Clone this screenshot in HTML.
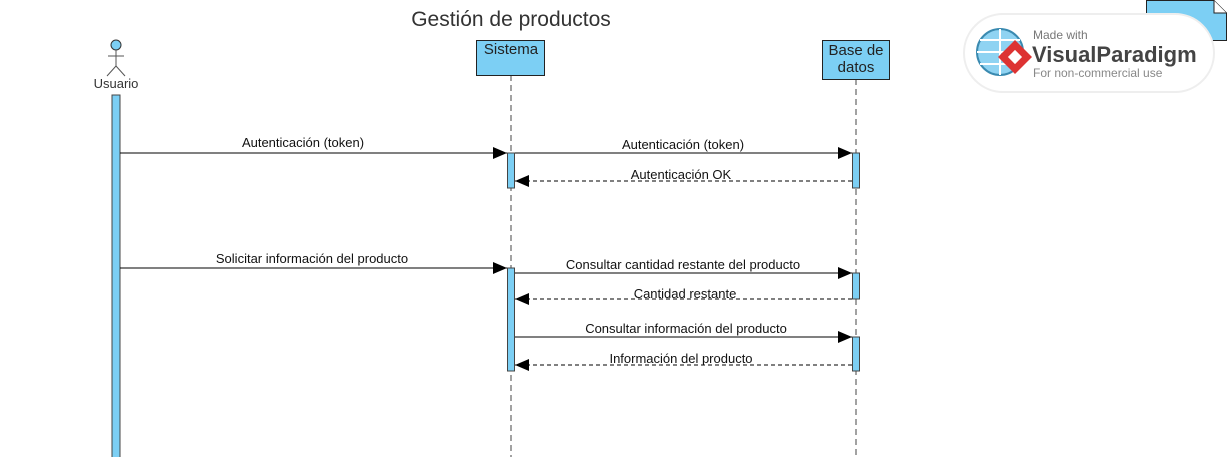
<!DOCTYPE html>
<html><head><meta charset="utf-8"><style>
html,body{margin:0;padding:0;background:#fff;}
svg{display:block;font-family:"Liberation Sans",Arial,sans-serif;}
</style></head><body>
<svg width="1227" height="457" viewBox="0 0 1227 457" xmlns="http://www.w3.org/2000/svg">
<defs>
<marker id="a" markerWidth="14" markerHeight="12" refX="14" refY="6" orient="auto" markerUnits="userSpaceOnUse"><path d="M0,0 L14,6 L0,12 Z" fill="#000"/></marker>
</defs>
<text x="511" y="26" font-size="21" text-anchor="middle" fill="#333">Gestión de productos</text>
<!-- actor -->
<circle cx="116" cy="45" r="5" fill="#7ccff4" stroke="#333"/>
<line x1="116" y1="50" x2="116" y2="66" stroke="#555"/>
<line x1="108" y1="56" x2="124" y2="56" stroke="#555"/>
<line x1="116" y1="66" x2="107" y2="76" stroke="#555"/>
<line x1="116" y1="66" x2="125" y2="76" stroke="#555"/>
<text x="116" y="88" font-size="13" text-anchor="middle" fill="#333">Usuario</text>
<rect x="112" y="95" width="8" height="365" fill="#7ccff4" stroke="#444"/>
<!-- Sistema -->
<line x1="511" y1="75" x2="511" y2="457" stroke="#444" stroke-dasharray="6,4"/>
<rect x="476.5" y="40.5" width="68" height="35" fill="#7ccff4" stroke="#222"/>
<text x="511" y="54" font-size="15" text-anchor="middle" fill="#222">Sistema</text>
<!-- DB -->
<line x1="856" y1="79" x2="856" y2="457" stroke="#444" stroke-dasharray="6,4"/>
<rect x="822.5" y="40.5" width="67" height="39" fill="#7ccff4" stroke="#222"/>
<text x="856" y="55" font-size="15" text-anchor="middle" fill="#222">Base de</text>
<text x="856" y="72" font-size="15" text-anchor="middle" fill="#222">datos</text>
<!-- activations -->
<rect x="507.5" y="153" width="7" height="35" fill="#7ccff4" stroke="#444"/>
<rect x="507.5" y="268" width="7" height="103" fill="#7ccff4" stroke="#444"/>
<rect x="852.5" y="153" width="7" height="35" fill="#7ccff4" stroke="#444"/>
<rect x="852.5" y="273" width="7" height="26" fill="#7ccff4" stroke="#444"/>
<rect x="852.5" y="337" width="7" height="34" fill="#7ccff4" stroke="#444"/>
<!-- messages -->
<g stroke="#000" stroke-width="1">
<line x1="120" y1="153" x2="507" y2="153" marker-end="url(#a)"/>
<line x1="515" y1="153" x2="852" y2="153" marker-end="url(#a)"/>
<line x1="852" y1="181" x2="515" y2="181" stroke-dasharray="4,3" marker-end="url(#a)"/>
<line x1="120" y1="268" x2="507" y2="268" marker-end="url(#a)"/>
<line x1="515" y1="273" x2="852" y2="273" marker-end="url(#a)"/>
<line x1="852" y1="299" x2="515" y2="299" stroke-dasharray="4,3" marker-end="url(#a)"/>
<line x1="515" y1="337" x2="852" y2="337" marker-end="url(#a)"/>
<line x1="852" y1="365" x2="515" y2="365" stroke-dasharray="4,3" marker-end="url(#a)"/>
</g>
<g font-size="13" fill="#111" text-anchor="middle">
<text x="303" y="147">Autenticación (token)</text>
<text x="683" y="149">Autenticación (token)</text>
<text x="681" y="179">Autenticación OK</text>
<text x="312" y="263">Solicitar información del producto</text>
<text x="683" y="269">Consultar cantidad restante del producto</text>
<text x="685" y="298">Cantidad restante</text>
<text x="686" y="333">Consultar información del producto</text>
<text x="681" y="363">Información del producto</text>
</g>
<!-- note -->
<path d="M1146.5,0.5 L1214,0.5 L1226.5,13 L1226.5,40.5 L1146.5,40.5 Z" fill="#7ccff4" stroke="#222"/>
<path d="M1214,0.5 L1214,13 L1226.5,13" fill="#fff" stroke="#222"/>
<!-- logo -->
<rect x="964" y="14" width="250" height="78" rx="39" fill="#fff" stroke="#eee" stroke-width="2"/>
<circle cx="1000" cy="52" r="23" fill="#8fd3f2" stroke="#3a8ab0" stroke-width="2"/>
<path d="M977,52 H1023 M1000,29 V75 M980,40 H1020 M980,64 H1020" stroke="#fff" stroke-width="2" fill="none"/>
<path d="M1015,40 L1032,57 L1015,74 L998,57 Z" fill="#d33"/>
<rect x="1010" y="52" width="10" height="10" fill="#fff" transform="rotate(45 1015 57)"/>
<text x="1033" y="39" font-size="12" fill="#777">Made with</text>
<text x="1032" y="62" font-size="22" font-weight="bold" fill="#444">VisualParadigm</text>
<text x="1033" y="77" font-size="12" fill="#888">For non-commercial use</text>
</svg>
</body></html>
